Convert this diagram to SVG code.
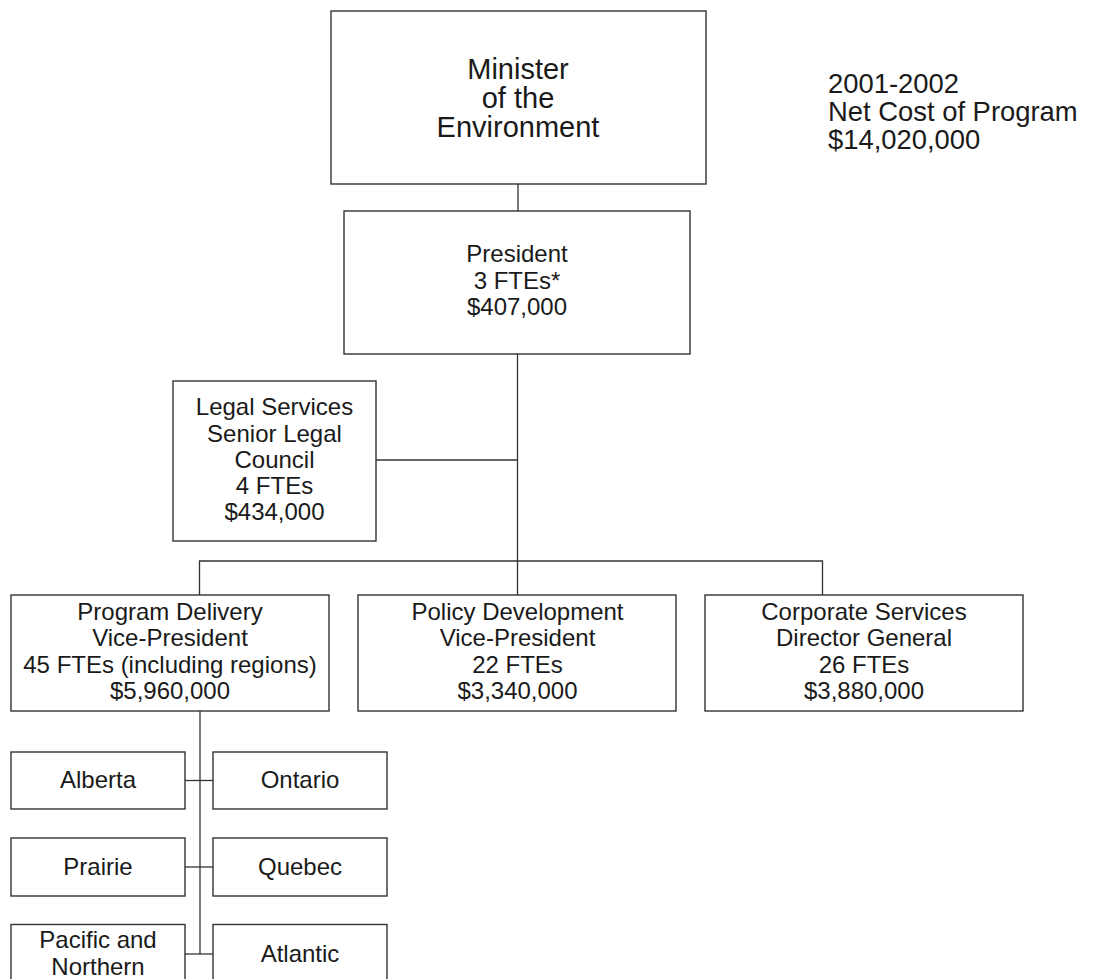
<svg xmlns="http://www.w3.org/2000/svg" width="1094" height="979" viewBox="0 0 1094 979">
<style>
.box{fill:#fff;stroke:#333;stroke-width:1.4}
.ln{fill:none;stroke:#333;stroke-width:1.3}
text{font-family:"Liberation Sans",Arial,sans-serif;fill:#1a1a1a;text-anchor:middle}
.t24{font-size:24px}
.t29{font-size:29px}
.note{font-size:27.4px;text-anchor:start}
</style>
<rect width="1094" height="979" fill="#fff"/>
<g id="connectors">
<path class="ln" d="M518 184V211"/>
<path class="ln" d="M517.5 354V595"/>
<path class="ln" d="M376 460H517.5"/>
<path class="ln" d="M199.5 595V561H822.5V595"/>
<path class="ln" d="M200 711V954"/>
<path class="ln" d="M185 780.5H213"/>
<path class="ln" d="M185 867H213"/>
<path class="ln" d="M185 954H213"/>
</g>
<g id="minister">
<rect class="box" x="331" y="11" width="375" height="173"/>
<text class="t29" x="518" y="79">Minister</text>
<text class="t29" x="518" y="108">of the</text>
<text class="t29" x="518" y="137">Environment</text>
</g>
<g id="note">
<text class="note" x="828" y="93">2001-2002</text>
<text class="note" x="828" y="121">Net Cost of Program</text>
<text class="note" x="828" y="149">$14,020,000</text>
</g>
<g id="president">
<rect class="box" x="344" y="211" width="346" height="143"/>
<text class="t24" x="517" y="262">President</text>
<text class="t24" x="517" y="289">3 FTEs*</text>
<text class="t24" x="517" y="315">$407,000</text>
</g>
<g id="legal">
<rect class="box" x="173" y="381" width="203" height="160"/>
<text class="t24" x="274.5" y="415">Legal Services</text>
<text class="t24" x="274.5" y="442">Senior Legal</text>
<text class="t24" x="274.5" y="468">Council</text>
<text class="t24" x="274.5" y="494">4 FTEs</text>
<text class="t24" x="274.5" y="520">$434,000</text>
</g>
<g id="program-delivery">
<rect class="box" x="11" y="595" width="318" height="116"/>
<text class="t24" x="170" y="620">Program Delivery</text>
<text class="t24" x="170" y="646">Vice-President</text>
<text class="t24" x="170" y="673">45 FTEs (including regions)</text>
<text class="t24" x="170" y="699">$5,960,000</text>
</g>
<g id="policy-development">
<rect class="box" x="358" y="595" width="318" height="116"/>
<text class="t24" x="517.5" y="620">Policy Development</text>
<text class="t24" x="517.5" y="646">Vice-President</text>
<text class="t24" x="517.5" y="673">22 FTEs</text>
<text class="t24" x="517.5" y="699">$3,340,000</text>
</g>
<g id="corporate-services">
<rect class="box" x="705" y="595" width="318" height="116"/>
<text class="t24" x="864" y="620">Corporate Services</text>
<text class="t24" x="864" y="646">Director General</text>
<text class="t24" x="864" y="673">26 FTEs</text>
<text class="t24" x="864" y="699">$3,880,000</text>
</g>
<g id="alberta">
<rect class="box" x="11" y="752" width="174" height="57"/>
<text class="t24" x="98" y="788">Alberta</text>
</g>
<g id="ontario">
<rect class="box" x="213" y="752" width="174" height="57"/>
<text class="t24" x="300" y="788">Ontario</text>
</g>
<g id="prairie">
<rect class="box" x="11" y="838" width="174" height="58"/>
<text class="t24" x="98" y="875">Prairie</text>
</g>
<g id="quebec">
<rect class="box" x="213" y="838" width="174" height="58"/>
<text class="t24" x="300" y="875">Quebec</text>
</g>
<g id="pacific-northern">
<rect class="box" x="11" y="924.5" width="174" height="58"/>
<text class="t24" x="98" y="948">Pacific and</text>
<text class="t24" x="98" y="975">Northern</text>
</g>
<g id="atlantic">
<rect class="box" x="213" y="924.5" width="174" height="58"/>
<text class="t24" x="300" y="962">Atlantic</text>
</g>
</svg>
